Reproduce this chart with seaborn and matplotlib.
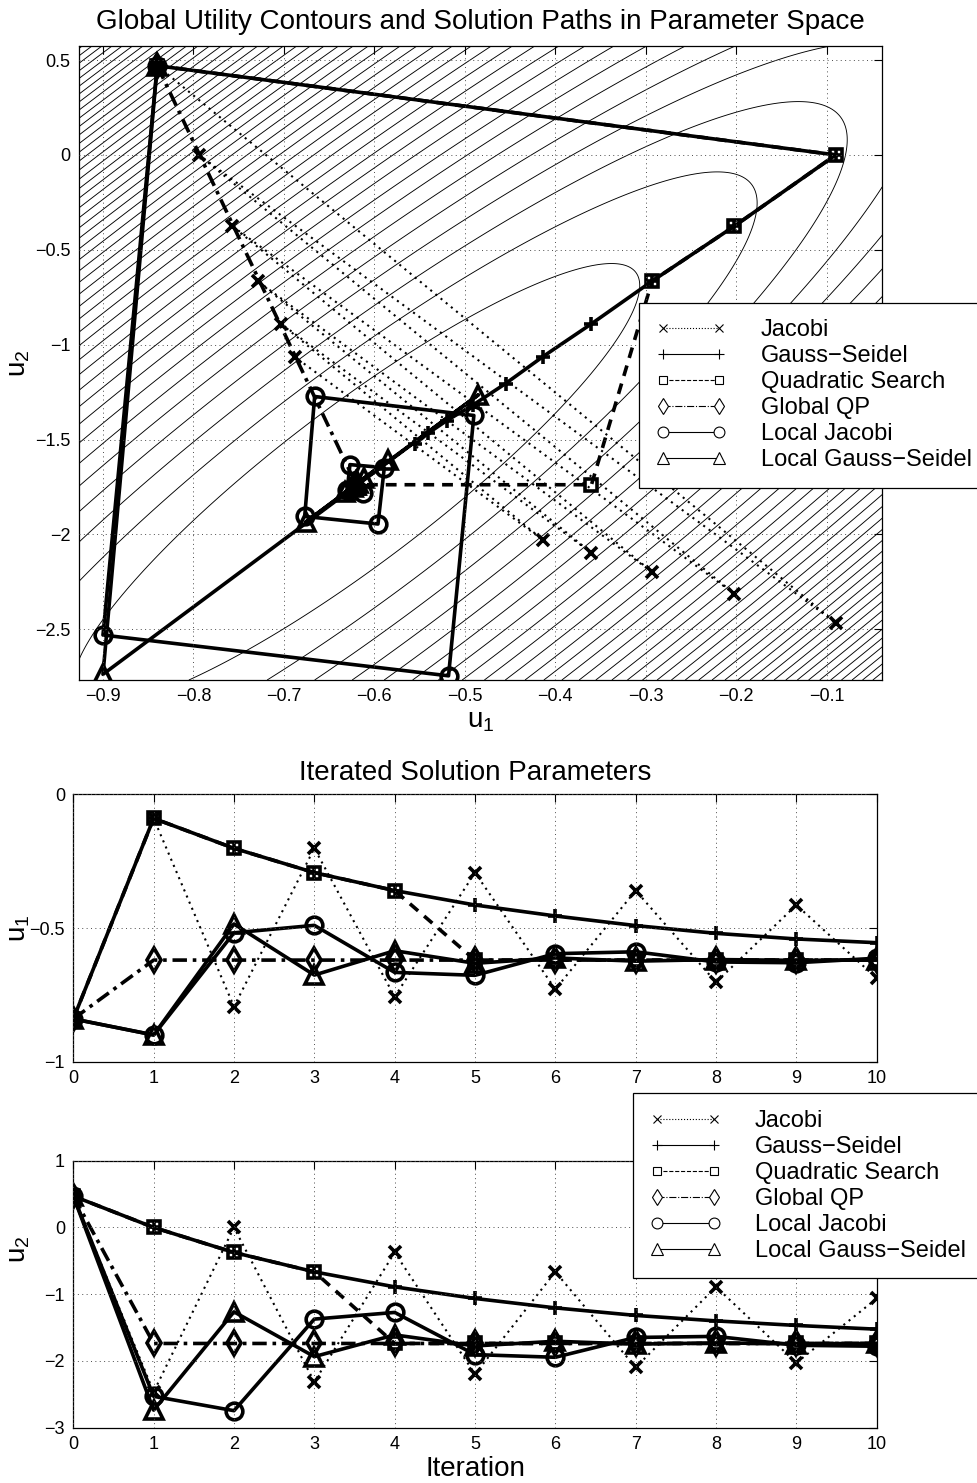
import numpy as np
import matplotlib
matplotlib.use("Agg")
import matplotlib.pyplot as plt
import seaborn as sns
from matplotlib.lines import Line2D
from matplotlib.ticker import FuncFormatter, FixedLocator

# ---------------- data ----------------
iterations = [0, 1, 2, 3, 4, 5, 6, 7, 8, 9, 10]
method_names = ["Jacobi", "Gauss\u2212Seidel", "Quadratic Search", "Global QP",
                "Local Jacobi", "Local Gauss\u2212Seidel"]

jacobi_u1 = [-0.84, -0.09, -0.794, -0.202, -0.757, -0.293, -0.729, -0.36, -0.703, -0.414, -0.688]
jacobi_u2 = [0.47, -2.465, 0.0, -2.313, -0.375, -2.198, -0.665, -2.097, -0.89, -2.028, -1.064]

gs_u1 = [-0.84, -0.09, -0.202, -0.293, -0.36, -0.414, -0.455, -0.491, -0.52, -0.541, -0.555]
gs_u2 = [0.47, 0.0, -0.375, -0.665, -0.89, -1.064, -1.205, -1.318, -1.40, -1.468, -1.524]

qs_u1 = [-0.84, -0.09, -0.202, -0.293, -0.36, -0.62, -0.62, -0.62, -0.62, -0.62, -0.62]
qs_u2 = [0.47, 0.0, -0.375, -0.665, -1.738, -1.738, -1.738, -1.738, -1.738, -1.738, -1.738]

gqp_u1 = [-0.84, -0.62, -0.62, -0.62, -0.62, -0.62, -0.62, -0.62, -0.62, -0.62, -0.62]
gqp_u2 = [0.47, -1.738, -1.738, -1.738, -1.738, -1.738, -1.738, -1.738, -1.738, -1.738, -1.738]

lj_u1 = [-0.84, -0.90, -0.518, -0.49, -0.666, -0.677, -0.596, -0.589, -0.627, -0.63, -0.613]
lj_u2 = [0.47, -2.53, -2.745, -1.373, -1.273, -1.905, -1.945, -1.648, -1.632, -1.765, -1.78]

lgs_u1 = [-0.84, -0.90, -0.485, -0.676, -0.585, -0.632, -0.612, -0.624, -0.618, -0.621, -0.620]
lgs_u2 = [0.47, -2.737, -1.264, -1.935, -1.61, -1.775, -1.705, -1.748, -1.73, -1.742, -1.738]

# global utility (quadratic) used for the background contours
eq_u1, eq_u2 = -0.62, -1.738
q_a, q_b, q_e = 13.84, -3.35, 1.0
level_step = 0.257
n_levels = 60

top_xlim = (-0.9265, -0.0385)
top_ylim = (-2.767, 0.574)
top_xticks = [-0.9, -0.8, -0.7, -0.6, -0.5, -0.4, -0.3, -0.2, -0.1]
top_yticks = [-2.5, -2.0, -1.5, -1.0, -0.5, 0.0, 0.5]

# ---------------- style ----------------
sns.set_theme(style="white")
plt.rcParams.update({
    "font.family": ["Liberation Sans", "DejaVu Sans"],
    "mathtext.fontset": "custom",
    "mathtext.rm": "Liberation Sans",
    "mathtext.it": "Liberation Sans",
    "mathtext.bf": "Liberation Sans:bold",
    "axes.unicode_minus": True,
    "text.color": "black",
    "axes.labelcolor": "black",
    "axes.edgecolor": "black",
    "xtick.color": "black",
    "ytick.color": "black",
    "axes.linewidth": 0.9,
})

LW = 2.6
MEW = 2.6
styles = [
    dict(marker="x", ms=8, ls=(0, (1.0, 2.2)), lw=1.5),
    dict(marker="+", ms=10, ls="-", lw=LW),
    dict(marker="s", ms=9, ls=(0, (3.0, 2.2)), lw=LW),
    dict(marker="d", ms=12, ls=(0, (4.0, 1.6, 1.0, 1.6)), lw=LW),
    dict(marker="o", ms=12, ls="-", lw=LW),
    dict(marker="^", ms=13, ls="-", lw=LW),
]
series_u1 = [jacobi_u1, gs_u1, qs_u1, gqp_u1, lj_u1, lgs_u1]
series_u2 = [jacobi_u2, gs_u2, qs_u2, gqp_u2, lj_u2, lgs_u2]


def fmt(v, pos=None):
    s = "%g" % round(v, 6)
    if s == "-0":
        s = "0"
    return s.replace("-", "\u2212")


def draw(ax, x, y, st):
    sns.lineplot(x=x, y=y, ax=ax, sort=False, estimator=None, color="black",
                 linewidth=st["lw"], linestyle=st["ls"], marker=st["marker"],
                 markersize=st["ms"], markeredgewidth=MEW, markeredgecolor="black",
                 markerfacecolor="none", legend=False)


def style_axes(ax):
    ax.tick_params(direction="in", top=True, right=True, length=5.5, width=0.8,
                   labelsize=13, pad=6)
    ax.grid(True, linestyle=(0, (1, 3.5)), color="0.3", linewidth=0.7)
    ax.set_axisbelow(False)
    for sp in ax.spines.values():
        sp.set_color("black")
        sp.set_linewidth(0.9)
    ax.xaxis.set_major_formatter(FuncFormatter(fmt))
    ax.yaxis.set_major_formatter(FuncFormatter(fmt))


fig = plt.figure(figsize=(9.77, 14.83), dpi=100)
ax1 = fig.add_axes([79 / 977, 1 - 680 / 1483, 803.3 / 977, 634 / 1483])
ax2 = fig.add_axes([73.3 / 977, 1 - 1061.7 / 1483, 803.4 / 977, 267.4 / 1483])
ax3 = fig.add_axes([73.3 / 977, 1 - 1427.7 / 1483, 803.4 / 977, 267 / 1483])

# ---------------- top panel ----------------
g1 = np.linspace(top_xlim[0], top_xlim[1], 500)
g2 = np.linspace(top_ylim[0], top_ylim[1], 500)
G1, G2 = np.meshgrid(g1, g2)
D1, D2 = G1 - eq_u1, G2 - eq_u2
Q = q_a * D1 ** 2 + 2 * q_b * D1 * D2 + q_e * D2 ** 2
ax1.contour(G1, G2, Q, levels=level_step * np.arange(1, n_levels + 1),
            colors="black", linewidths=0.65, zorder=1)

for x, y, st in zip(series_u1, series_u2, styles):
    draw(ax1, x, y, st)

ax1.set_xlim(*top_xlim)
ax1.set_ylim(*top_ylim)
ax1.xaxis.set_major_locator(FixedLocator(top_xticks))
ax1.yaxis.set_major_locator(FixedLocator(top_yticks))
style_axes(ax1)
ax1.set_title("Global Utility Contours and Solution Paths in Parameter Space",
              fontsize=20, pad=12)
ax1.set_xlabel(r"u$_1$", fontsize=20, labelpad=2)
ax1.set_ylabel(r"u$_2$", fontsize=20)
ax1.yaxis.set_label_coords(-0.058, 0.5)

# ---------------- iteration panels ----------------
for ax, comp in ((ax2, series_u1), (ax3, series_u2)):
    for y, st in zip(comp, styles):
        draw(ax, iterations, y, st)
    ax.set_xlim(0, 10)
    ax.xaxis.set_major_locator(FixedLocator(iterations))
    style_axes(ax)

ax2.set_ylim(-1, 0)
ax2.yaxis.set_major_locator(FixedLocator([-1, -0.5, 0]))
ax2.set_title("Iterated Solution Parameters", fontsize=20, pad=10)
ax2.set_ylabel(r"u$_1$", fontsize=20)
ax2.yaxis.set_label_coords(-0.052, 0.5)

ax3.set_ylim(-3, 1)
ax3.yaxis.set_major_locator(FixedLocator([-3, -2, -1, 0, 1]))
ax3.set_ylabel(r"u$_2$", fontsize=20)
ax3.yaxis.set_label_coords(-0.052, 0.67)
ax3.set_xlabel("Iteration", fontsize=20, labelpad=2)

# ---------------- legends ----------------
handles = []
for st in styles:
    ls = ":" if st["marker"] == "x" else st["ls"]
    if st["ls"] != "-" and st["marker"] != "x":
        ls = "--" if st["marker"] == "s" else "-."
    handles.append(Line2D([0], [0], color="black", lw=0.8, ls=ls, marker=st["marker"],
                          ms=st["ms"] * 0.65, mfc="white", mec="black", mew=0.8))

leg_kw = dict(loc="upper left", bbox_transform=fig.transFigure, numpoints=2,
              fontsize=17, handlelength=3.0, handletextpad=1.45, labelspacing=0.17,
              borderpad=0.7, fancybox=False, framealpha=1, edgecolor="black",
              borderaxespad=0)
leg1 = fig.legend(handles, method_names, bbox_to_anchor=(639 / 977, 1 - 302.7 / 1483), **leg_kw)
leg2 = fig.legend(handles, method_names, bbox_to_anchor=(633.3 / 977, 1 - 1093.3 / 1483), **leg_kw)
for lg in (leg1, leg2):
    lg.get_frame().set_linewidth(0.9)

fig.savefig("out.png", dpi=100)
